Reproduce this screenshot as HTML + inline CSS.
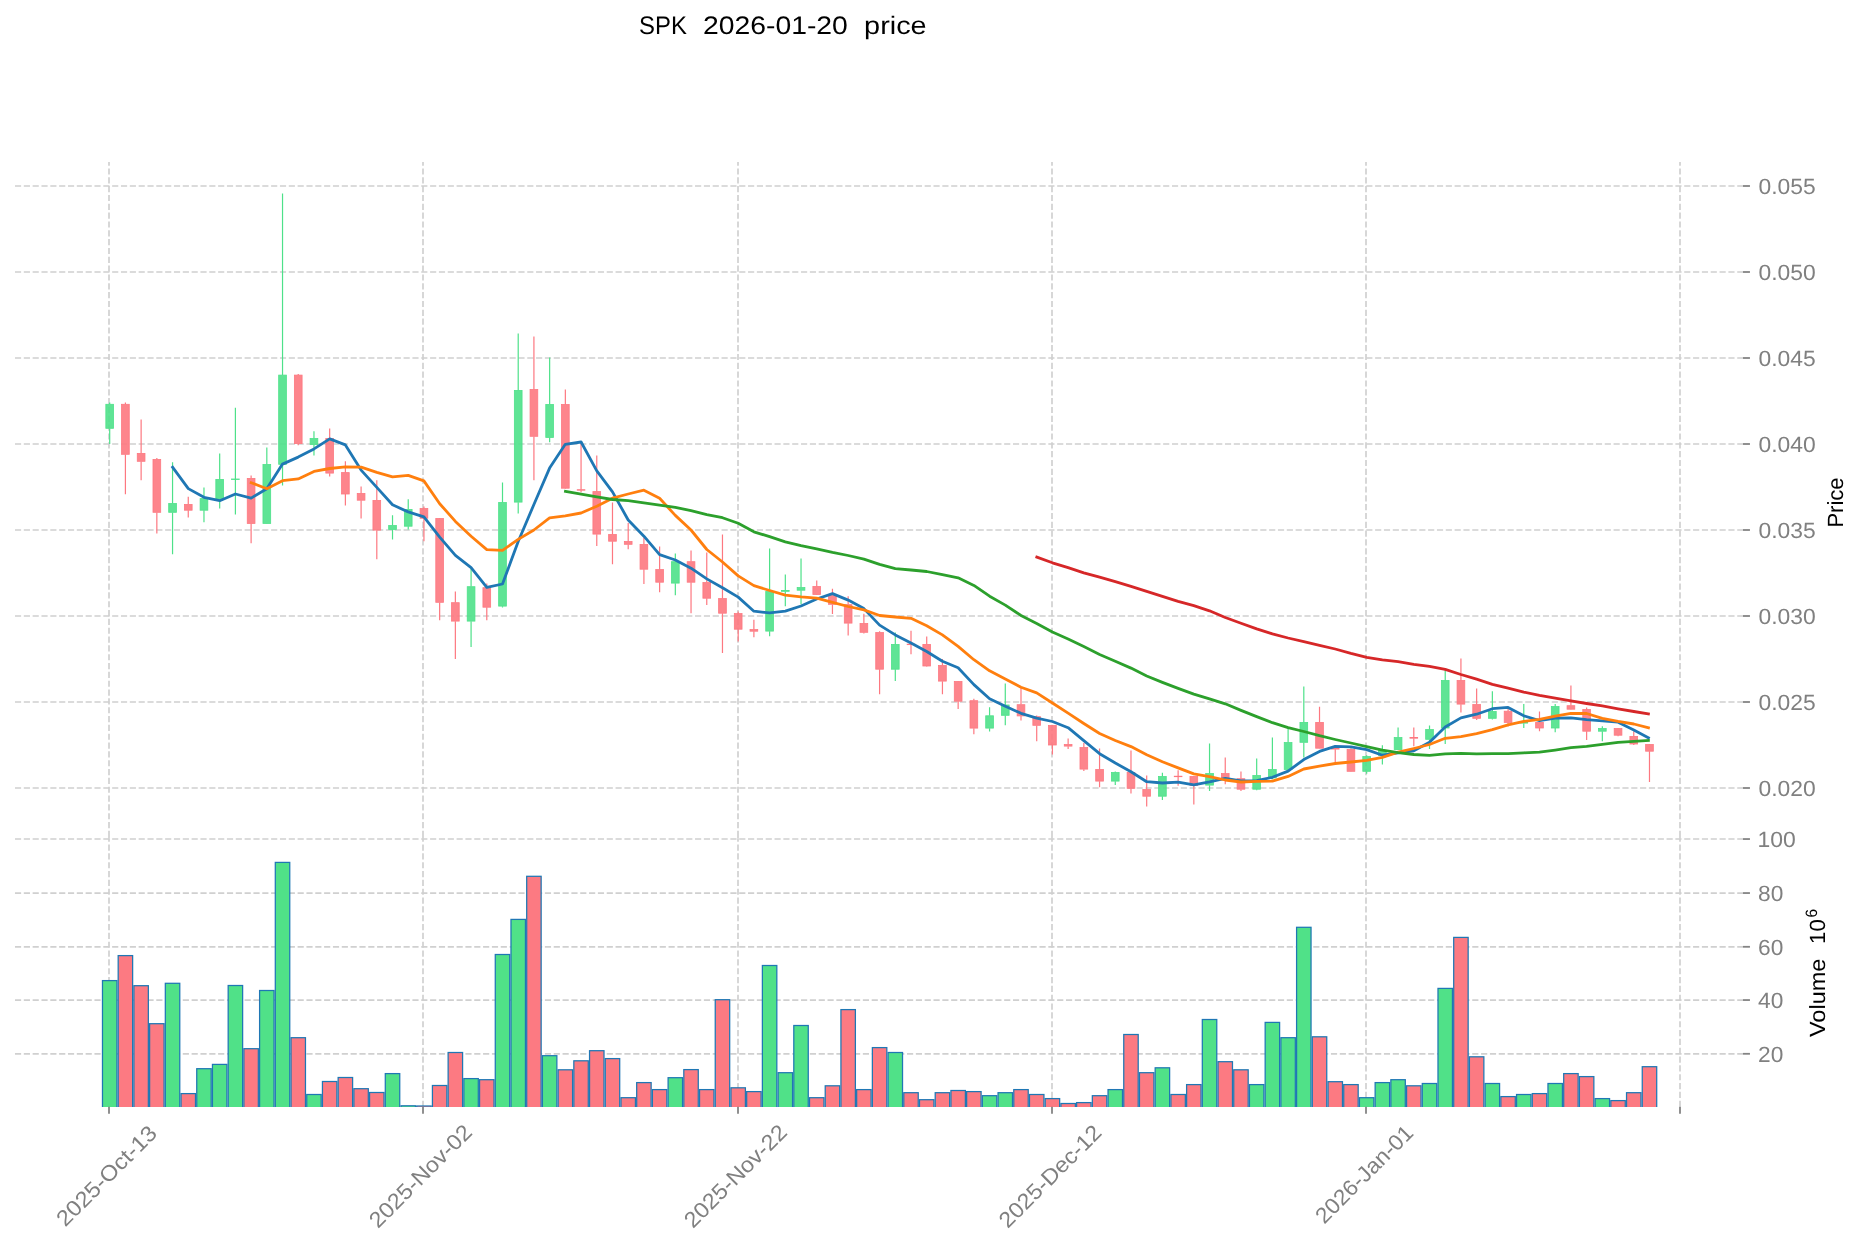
<!DOCTYPE html><html><head><meta charset="utf-8"><title>SPK 2026-01-20 price</title><style>html,body{margin:0;padding:0;background:#fff}svg{display:block;will-change:transform}text{font-family:"Liberation Sans",sans-serif;text-rendering:geometricPrecision}</style></head><body>
<svg width="1860" height="1246" viewBox="0 0 1860 1246">
<rect width="1860" height="1246" fill="#fff"/>
<g stroke="#d0d0d0" stroke-width="1.667" stroke-dasharray="6.17 2.662" fill="none">
<path d="M14.97 186H1742.94"/>
<path d="M14.97 272H1742.94"/>
<path d="M14.97 358H1742.94"/>
<path d="M14.97 444H1742.94"/>
<path d="M14.97 530H1742.94"/>
<path d="M14.97 616H1742.94"/>
<path d="M14.97 702H1742.94"/>
<path d="M14.97 788H1742.94"/>
<path d="M14.97 839.04H1742.94"/>
<path d="M14.97 893.05H1742.94"/>
<path d="M14.97 946.8H1742.94"/>
<path d="M14.97 1000.05H1742.94"/>
<path d="M14.97 1053.8H1742.94"/>
<path d="M109 837.0V162.0"/>
<path d="M109 1106.8V838.5"/>
<path d="M423 837.0V162.0"/>
<path d="M423 1106.8V838.5"/>
<path d="M738 837.0V162.0"/>
<path d="M738 1106.8V838.5"/>
<path d="M1052 837.0V162.0"/>
<path d="M1052 1106.8V838.5"/>
<path d="M1366 837.0V162.0"/>
<path d="M1366 1106.8V838.5"/>
<path d="M1680 837.0V162.0"/>
<path d="M1680 1106.8V838.5"/>
</g>
<g stroke="#d0d0d0" stroke-width="1.667" fill="none">
<path d="M109 836.9V838.6"/>
<path d="M423 836.9V838.6"/>
<path d="M738 836.9V838.6"/>
<path d="M1052 836.9V838.6"/>
<path d="M1366 836.9V838.6"/>
<path d="M1680 836.9V838.6"/>
</g>
<clipPath id="vc"><rect x="0" y="800" width="1860" height="306.9000000000001"/></clipPath>
<g stroke="#1f77b4" stroke-width="1.25" clip-path="url(#vc)">
<rect x="102.47" y="980.6" width="14.46" height="129.3" fill="#50e188"/>
<rect x="118.18" y="955.6" width="14.46" height="154.3" fill="#fc7a82"/>
<rect x="133.89" y="985.7" width="14.46" height="124.2" fill="#fc7a82"/>
<rect x="149.61" y="1023.7" width="14.46" height="86.2" fill="#fc7a82"/>
<rect x="165.32" y="983.3" width="14.46" height="126.6" fill="#50e188"/>
<rect x="181.03" y="1093.6" width="14.46" height="16.3" fill="#fc7a82"/>
<rect x="196.74" y="1068.7" width="14.46" height="41.2" fill="#50e188"/>
<rect x="212.45" y="1064.4" width="14.46" height="45.5" fill="#50e188"/>
<rect x="228.17" y="985.5" width="14.46" height="124.4" fill="#50e188"/>
<rect x="243.88" y="1048.7" width="14.46" height="61.2" fill="#fc7a82"/>
<rect x="259.59" y="990.5" width="14.46" height="119.4" fill="#50e188"/>
<rect x="275.30" y="862.4" width="14.46" height="247.5" fill="#50e188"/>
<rect x="291.01" y="1037.7" width="14.46" height="72.2" fill="#fc7a82"/>
<rect x="306.73" y="1094.5" width="14.46" height="15.4" fill="#50e188"/>
<rect x="322.44" y="1081.5" width="14.46" height="28.4" fill="#fc7a82"/>
<rect x="338.15" y="1077.5" width="14.46" height="32.4" fill="#fc7a82"/>
<rect x="353.86" y="1088.7" width="14.46" height="21.2" fill="#fc7a82"/>
<rect x="369.57" y="1092.5" width="14.46" height="17.4" fill="#fc7a82"/>
<rect x="385.29" y="1073.6" width="14.46" height="36.3" fill="#50e188"/>
<rect x="401.00" y="1105.8" width="14.46" height="4.1" fill="#50e188"/>
<rect x="416.71" y="1106.0" width="14.46" height="3.9" fill="#fc7a82"/>
<rect x="432.42" y="1085.5" width="14.46" height="24.4" fill="#fc7a82"/>
<rect x="448.13" y="1052.5" width="14.46" height="57.4" fill="#fc7a82"/>
<rect x="463.85" y="1078.6" width="14.46" height="31.3" fill="#50e188"/>
<rect x="479.56" y="1079.7" width="14.46" height="30.2" fill="#fc7a82"/>
<rect x="495.27" y="954.5" width="14.46" height="155.4" fill="#50e188"/>
<rect x="510.98" y="919.4" width="14.46" height="190.5" fill="#50e188"/>
<rect x="526.69" y="876.3" width="14.46" height="233.6" fill="#fc7a82"/>
<rect x="542.41" y="1055.7" width="14.46" height="54.2" fill="#50e188"/>
<rect x="558.12" y="1069.8" width="14.46" height="40.1" fill="#fc7a82"/>
<rect x="573.83" y="1060.8" width="14.46" height="49.1" fill="#fc7a82"/>
<rect x="589.54" y="1050.7" width="14.46" height="59.2" fill="#fc7a82"/>
<rect x="605.25" y="1058.6" width="14.46" height="51.3" fill="#fc7a82"/>
<rect x="620.97" y="1097.7" width="14.46" height="12.2" fill="#fc7a82"/>
<rect x="636.68" y="1082.6" width="14.46" height="27.3" fill="#fc7a82"/>
<rect x="652.39" y="1089.6" width="14.46" height="20.3" fill="#fc7a82"/>
<rect x="668.10" y="1077.7" width="14.46" height="32.2" fill="#50e188"/>
<rect x="683.81" y="1069.6" width="14.46" height="40.3" fill="#fc7a82"/>
<rect x="699.53" y="1089.6" width="14.46" height="20.3" fill="#fc7a82"/>
<rect x="715.24" y="999.7" width="14.46" height="110.2" fill="#fc7a82"/>
<rect x="730.95" y="1087.8" width="14.46" height="22.1" fill="#fc7a82"/>
<rect x="746.66" y="1091.6" width="14.46" height="18.3" fill="#fc7a82"/>
<rect x="762.37" y="965.5" width="14.46" height="144.4" fill="#50e188"/>
<rect x="778.09" y="1072.7" width="14.46" height="37.2" fill="#50e188"/>
<rect x="793.80" y="1025.5" width="14.46" height="84.4" fill="#50e188"/>
<rect x="809.51" y="1097.7" width="14.46" height="12.2" fill="#fc7a82"/>
<rect x="825.22" y="1085.8" width="14.46" height="24.1" fill="#fc7a82"/>
<rect x="840.93" y="1009.6" width="14.46" height="100.3" fill="#fc7a82"/>
<rect x="856.65" y="1089.6" width="14.46" height="20.3" fill="#fc7a82"/>
<rect x="872.36" y="1047.6" width="14.46" height="62.3" fill="#fc7a82"/>
<rect x="888.07" y="1052.5" width="14.46" height="57.4" fill="#50e188"/>
<rect x="903.78" y="1092.7" width="14.46" height="17.2" fill="#fc7a82"/>
<rect x="919.49" y="1099.7" width="14.46" height="10.2" fill="#fc7a82"/>
<rect x="935.21" y="1092.7" width="14.46" height="17.2" fill="#fc7a82"/>
<rect x="950.92" y="1090.5" width="14.46" height="19.4" fill="#fc7a82"/>
<rect x="966.63" y="1091.6" width="14.46" height="18.3" fill="#fc7a82"/>
<rect x="982.34" y="1095.7" width="14.46" height="14.2" fill="#50e188"/>
<rect x="998.05" y="1092.7" width="14.46" height="17.2" fill="#50e188"/>
<rect x="1013.77" y="1089.6" width="14.46" height="20.3" fill="#fc7a82"/>
<rect x="1029.48" y="1094.5" width="14.46" height="15.4" fill="#fc7a82"/>
<rect x="1045.19" y="1098.6" width="14.46" height="11.3" fill="#fc7a82"/>
<rect x="1060.90" y="1103.5" width="14.46" height="6.4" fill="#fc7a82"/>
<rect x="1076.61" y="1102.6" width="14.46" height="7.3" fill="#fc7a82"/>
<rect x="1092.33" y="1095.7" width="14.46" height="14.2" fill="#fc7a82"/>
<rect x="1108.04" y="1089.6" width="14.46" height="20.3" fill="#50e188"/>
<rect x="1123.75" y="1034.5" width="14.46" height="75.4" fill="#fc7a82"/>
<rect x="1139.46" y="1072.7" width="14.46" height="37.2" fill="#fc7a82"/>
<rect x="1155.17" y="1067.8" width="14.46" height="42.1" fill="#50e188"/>
<rect x="1170.89" y="1094.5" width="14.46" height="15.4" fill="#fc7a82"/>
<rect x="1186.60" y="1084.6" width="14.46" height="25.3" fill="#fc7a82"/>
<rect x="1202.31" y="1019.5" width="14.46" height="90.4" fill="#50e188"/>
<rect x="1218.02" y="1061.7" width="14.46" height="48.2" fill="#fc7a82"/>
<rect x="1233.73" y="1069.8" width="14.46" height="40.1" fill="#fc7a82"/>
<rect x="1249.45" y="1084.6" width="14.46" height="25.3" fill="#50e188"/>
<rect x="1265.16" y="1022.4" width="14.46" height="87.5" fill="#50e188"/>
<rect x="1280.87" y="1037.7" width="14.46" height="72.2" fill="#50e188"/>
<rect x="1296.58" y="927.3" width="14.46" height="182.6" fill="#50e188"/>
<rect x="1312.29" y="1036.8" width="14.46" height="73.1" fill="#fc7a82"/>
<rect x="1328.01" y="1081.7" width="14.46" height="28.2" fill="#fc7a82"/>
<rect x="1343.72" y="1084.6" width="14.46" height="25.3" fill="#fc7a82"/>
<rect x="1359.43" y="1097.7" width="14.46" height="12.2" fill="#50e188"/>
<rect x="1375.14" y="1082.6" width="14.46" height="27.3" fill="#50e188"/>
<rect x="1390.85" y="1079.7" width="14.46" height="30.2" fill="#50e188"/>
<rect x="1406.57" y="1085.8" width="14.46" height="24.1" fill="#fc7a82"/>
<rect x="1422.28" y="1083.5" width="14.46" height="26.4" fill="#50e188"/>
<rect x="1437.99" y="988.4" width="14.46" height="121.5" fill="#50e188"/>
<rect x="1453.70" y="937.4" width="14.46" height="172.5" fill="#fc7a82"/>
<rect x="1469.41" y="1056.8" width="14.46" height="53.1" fill="#fc7a82"/>
<rect x="1485.13" y="1083.5" width="14.46" height="26.4" fill="#50e188"/>
<rect x="1500.84" y="1096.6" width="14.46" height="13.3" fill="#fc7a82"/>
<rect x="1516.55" y="1094.5" width="14.46" height="15.4" fill="#50e188"/>
<rect x="1532.26" y="1093.6" width="14.46" height="16.3" fill="#fc7a82"/>
<rect x="1547.97" y="1083.5" width="14.46" height="26.4" fill="#50e188"/>
<rect x="1563.69" y="1073.6" width="14.46" height="36.3" fill="#fc7a82"/>
<rect x="1579.40" y="1076.6" width="14.46" height="33.3" fill="#fc7a82"/>
<rect x="1595.11" y="1098.6" width="14.46" height="11.3" fill="#50e188"/>
<rect x="1610.82" y="1100.6" width="14.46" height="9.3" fill="#fc7a82"/>
<rect x="1626.53" y="1092.7" width="14.46" height="17.2" fill="#fc7a82"/>
<rect x="1642.25" y="1066.7" width="14.46" height="43.2" fill="#fc7a82"/>
</g>
<path d="M109.70 402.6V404.2M109.70 428.4V444.0" stroke="#4ee189" stroke-width="1.2"/>
<rect x="105.85" y="404.30" width="7.7" height="24.00" fill="#4ee189" fill-opacity="0.9" stroke="#4ee189" stroke-width="0.8"/>
<path d="M125.41 402.6V404.2M125.41 454.4V494.2" stroke="#fd7880" stroke-width="1.2"/>
<rect x="121.56" y="404.30" width="7.7" height="50.00" fill="#fd7880" fill-opacity="0.9" stroke="#fd7880" stroke-width="0.8"/>
<path d="M141.12 419.5V453.3M141.12 461.4V480.3" stroke="#fd7880" stroke-width="1.2"/>
<rect x="137.27" y="453.40" width="7.7" height="7.90" fill="#fd7880" fill-opacity="0.9" stroke="#fd7880" stroke-width="0.8"/>
<path d="M156.84 458.1V459.3M156.84 512.4V533.4" stroke="#fd7880" stroke-width="1.2"/>
<rect x="152.99" y="459.40" width="7.7" height="52.90" fill="#fd7880" fill-opacity="0.9" stroke="#fd7880" stroke-width="0.8"/>
<path d="M172.55 462.2V503.4M172.55 512.4V554.3" stroke="#4ee189" stroke-width="1.2"/>
<rect x="168.70" y="503.50" width="7.7" height="8.80" fill="#4ee189" fill-opacity="0.9" stroke="#4ee189" stroke-width="0.8"/>
<path d="M188.26 496.7V504.3M188.26 510.3V517.4" stroke="#fd7880" stroke-width="1.2"/>
<rect x="184.41" y="504.40" width="7.7" height="5.80" fill="#fd7880" fill-opacity="0.9" stroke="#fd7880" stroke-width="0.8"/>
<path d="M203.97 487.5V498.5M203.97 510.3V522.3" stroke="#4ee189" stroke-width="1.2"/>
<rect x="200.12" y="498.60" width="7.7" height="11.60" fill="#4ee189" fill-opacity="0.9" stroke="#4ee189" stroke-width="0.8"/>
<path d="M219.68 453.6V479.3M219.68 499.0V508.5" stroke="#4ee189" stroke-width="1.2"/>
<rect x="215.83" y="479.40" width="7.7" height="19.50" fill="#4ee189" fill-opacity="0.9" stroke="#4ee189" stroke-width="0.8"/>
<path d="M235.40 407.7V479.2M235.40 479.3V514.4" stroke="#4ee189" stroke-width="1.2"/>
<rect x="231.55" y="479.00" width="7.7" height="0.50" fill="#4ee189" fill-opacity="0.9" stroke="#4ee189" stroke-width="0.8"/>
<path d="M251.11 475.6V478.3M251.11 523.5V543.3" stroke="#fd7880" stroke-width="1.2"/>
<rect x="247.26" y="478.40" width="7.7" height="45.00" fill="#fd7880" fill-opacity="0.9" stroke="#fd7880" stroke-width="0.8"/>
<path d="M266.82 447.4V464.4M266.82 523.5V523.8" stroke="#4ee189" stroke-width="1.2"/>
<rect x="262.97" y="464.50" width="7.7" height="58.90" fill="#4ee189" fill-opacity="0.9" stroke="#4ee189" stroke-width="0.8"/>
<path d="M282.53 193.5V375.0M282.53 464.4V485.4" stroke="#4ee189" stroke-width="1.2"/>
<rect x="278.68" y="375.10" width="7.7" height="89.20" fill="#4ee189" fill-opacity="0.9" stroke="#4ee189" stroke-width="0.8"/>
<path d="M298.24 374.0V375.0M298.24 443.7V445.3" stroke="#fd7880" stroke-width="1.2"/>
<rect x="294.39" y="375.10" width="7.7" height="68.50" fill="#fd7880" fill-opacity="0.9" stroke="#fd7880" stroke-width="0.8"/>
<path d="M313.96 431.2V438.4M313.96 444.6V455.6" stroke="#4ee189" stroke-width="1.2"/>
<rect x="310.11" y="438.50" width="7.7" height="6.00" fill="#4ee189" fill-opacity="0.9" stroke="#4ee189" stroke-width="0.8"/>
<path d="M329.67 428.4V438.4M329.67 473.2V476.5" stroke="#fd7880" stroke-width="1.2"/>
<rect x="325.82" y="438.50" width="7.7" height="34.60" fill="#fd7880" fill-opacity="0.9" stroke="#fd7880" stroke-width="0.8"/>
<path d="M345.38 461.3V472.5M345.38 494.1V505.5" stroke="#fd7880" stroke-width="1.2"/>
<rect x="341.53" y="472.60" width="7.7" height="21.40" fill="#fd7880" fill-opacity="0.9" stroke="#fd7880" stroke-width="0.8"/>
<path d="M361.09 486.5V493.4M361.09 500.3V518.5" stroke="#fd7880" stroke-width="1.2"/>
<rect x="357.24" y="493.50" width="7.7" height="6.70" fill="#fd7880" fill-opacity="0.9" stroke="#fd7880" stroke-width="0.8"/>
<path d="M376.80 480.3V500.3M376.80 530.2V559.3" stroke="#fd7880" stroke-width="1.2"/>
<rect x="372.95" y="500.40" width="7.7" height="29.70" fill="#fd7880" fill-opacity="0.9" stroke="#fd7880" stroke-width="0.8"/>
<path d="M392.52 515.3V525.4M392.52 529.5V539.4" stroke="#4ee189" stroke-width="1.2"/>
<rect x="388.67" y="525.50" width="7.7" height="3.90" fill="#4ee189" fill-opacity="0.9" stroke="#4ee189" stroke-width="0.8"/>
<path d="M408.23 499.3V509.4M408.23 526.3V529.6" stroke="#4ee189" stroke-width="1.2"/>
<rect x="404.38" y="509.50" width="7.7" height="16.70" fill="#4ee189" fill-opacity="0.9" stroke="#4ee189" stroke-width="0.8"/>
<path d="M423.94 506.5V508.4M423.94 518.3V541.2" stroke="#fd7880" stroke-width="1.2"/>
<rect x="420.09" y="508.50" width="7.7" height="9.70" fill="#fd7880" fill-opacity="0.9" stroke="#fd7880" stroke-width="0.8"/>
<path d="M439.65 518.0V518.4M439.65 602.4V620.2" stroke="#fd7880" stroke-width="1.2"/>
<rect x="435.80" y="518.50" width="7.7" height="83.80" fill="#fd7880" fill-opacity="0.9" stroke="#fd7880" stroke-width="0.8"/>
<path d="M455.36 591.6V602.6M455.36 621.2V659.1" stroke="#fd7880" stroke-width="1.2"/>
<rect x="451.51" y="602.70" width="7.7" height="18.40" fill="#fd7880" fill-opacity="0.9" stroke="#fd7880" stroke-width="0.8"/>
<path d="M471.08 568.4V586.6M471.08 621.2V647.1" stroke="#4ee189" stroke-width="1.2"/>
<rect x="467.23" y="586.70" width="7.7" height="34.40" fill="#4ee189" fill-opacity="0.9" stroke="#4ee189" stroke-width="0.8"/>
<path d="M486.79 583.5V587.6M486.79 607.3V620.2" stroke="#fd7880" stroke-width="1.2"/>
<rect x="482.94" y="587.70" width="7.7" height="19.50" fill="#fd7880" fill-opacity="0.9" stroke="#fd7880" stroke-width="0.8"/>
<path d="M502.50 482.4V502.4M502.50 606.2V607.6" stroke="#4ee189" stroke-width="1.2"/>
<rect x="498.65" y="502.50" width="7.7" height="103.60" fill="#4ee189" fill-opacity="0.9" stroke="#4ee189" stroke-width="0.8"/>
<path d="M518.21 333.5V390.3M518.21 502.2V513.4" stroke="#4ee189" stroke-width="1.2"/>
<rect x="514.36" y="390.40" width="7.7" height="111.70" fill="#4ee189" fill-opacity="0.9" stroke="#4ee189" stroke-width="0.8"/>
<path d="M533.92 336.6V389.4M533.92 436.4V480.3" stroke="#fd7880" stroke-width="1.2"/>
<rect x="530.07" y="389.50" width="7.7" height="46.80" fill="#fd7880" fill-opacity="0.9" stroke="#fd7880" stroke-width="0.8"/>
<path d="M549.64 357.6V404.4M549.64 437.5V442.3" stroke="#4ee189" stroke-width="1.2"/>
<rect x="545.79" y="404.50" width="7.7" height="32.90" fill="#4ee189" fill-opacity="0.9" stroke="#4ee189" stroke-width="0.8"/>
<path d="M565.35 389.6V404.4M565.35 488.3V488.8" stroke="#fd7880" stroke-width="1.2"/>
<rect x="561.50" y="404.50" width="7.7" height="83.70" fill="#fd7880" fill-opacity="0.9" stroke="#fd7880" stroke-width="0.8"/>
<path d="M581.06 443.3V489.7M581.06 490.2V492.3" stroke="#fd7880" stroke-width="1.2"/>
<rect x="577.21" y="489.70" width="7.7" height="0.50" fill="#fd7880" fill-opacity="0.9" stroke="#fd7880" stroke-width="0.8"/>
<path d="M596.77 455.5V491.5M596.77 534.2V546.0" stroke="#fd7880" stroke-width="1.2"/>
<rect x="592.92" y="491.60" width="7.7" height="42.50" fill="#fd7880" fill-opacity="0.9" stroke="#fd7880" stroke-width="0.8"/>
<path d="M612.48 502.5V534.4M612.48 541.3V564.3" stroke="#fd7880" stroke-width="1.2"/>
<rect x="608.63" y="534.50" width="7.7" height="6.70" fill="#fd7880" fill-opacity="0.9" stroke="#fd7880" stroke-width="0.8"/>
<path d="M628.20 523.0V541.4M628.20 544.4V549.3" stroke="#fd7880" stroke-width="1.2"/>
<rect x="624.35" y="541.50" width="7.7" height="2.80" fill="#fd7880" fill-opacity="0.9" stroke="#fd7880" stroke-width="0.8"/>
<path d="M643.91 537.3V544.3M643.91 569.3V584.1" stroke="#fd7880" stroke-width="1.2"/>
<rect x="640.06" y="544.40" width="7.7" height="24.80" fill="#fd7880" fill-opacity="0.9" stroke="#fd7880" stroke-width="0.8"/>
<path d="M659.62 546.5V569.5M659.62 582.3V592.3" stroke="#fd7880" stroke-width="1.2"/>
<rect x="655.77" y="569.60" width="7.7" height="12.60" fill="#fd7880" fill-opacity="0.9" stroke="#fd7880" stroke-width="0.8"/>
<path d="M675.33 553.4V561.6M675.33 583.2V595.2" stroke="#4ee189" stroke-width="1.2"/>
<rect x="671.48" y="561.70" width="7.7" height="21.40" fill="#4ee189" fill-opacity="0.9" stroke="#4ee189" stroke-width="0.8"/>
<path d="M691.04 550.6V561.6M691.04 582.3V613.2" stroke="#fd7880" stroke-width="1.2"/>
<rect x="687.19" y="561.70" width="7.7" height="20.50" fill="#fd7880" fill-opacity="0.9" stroke="#fd7880" stroke-width="0.8"/>
<path d="M706.76 552.5V582.5M706.76 598.3V605.1" stroke="#fd7880" stroke-width="1.2"/>
<rect x="702.91" y="582.60" width="7.7" height="15.60" fill="#fd7880" fill-opacity="0.9" stroke="#fd7880" stroke-width="0.8"/>
<path d="M722.47 534.6V598.5M722.47 613.3V653.1" stroke="#fd7880" stroke-width="1.2"/>
<rect x="718.62" y="598.60" width="7.7" height="14.60" fill="#fd7880" fill-opacity="0.9" stroke="#fd7880" stroke-width="0.8"/>
<path d="M738.18 611.4V613.5M738.18 629.3V641.5" stroke="#fd7880" stroke-width="1.2"/>
<rect x="734.33" y="613.60" width="7.7" height="15.60" fill="#fd7880" fill-opacity="0.9" stroke="#fd7880" stroke-width="0.8"/>
<path d="M753.89 619.8V629.5M753.89 631.3V637.2" stroke="#fd7880" stroke-width="1.2"/>
<rect x="750.04" y="629.60" width="7.7" height="1.60" fill="#fd7880" fill-opacity="0.9" stroke="#fd7880" stroke-width="0.8"/>
<path d="M769.60 548.5V591.5M769.60 631.2V636.3" stroke="#4ee189" stroke-width="1.2"/>
<rect x="765.75" y="591.60" width="7.7" height="39.50" fill="#4ee189" fill-opacity="0.9" stroke="#4ee189" stroke-width="0.8"/>
<path d="M785.32 574.6V590.5M785.32 591.4V606.2" stroke="#4ee189" stroke-width="1.2"/>
<rect x="781.47" y="590.60" width="7.7" height="0.70" fill="#4ee189" fill-opacity="0.9" stroke="#4ee189" stroke-width="0.8"/>
<path d="M801.03 558.6V587.5M801.03 590.3V604.3" stroke="#4ee189" stroke-width="1.2"/>
<rect x="797.18" y="587.60" width="7.7" height="2.60" fill="#4ee189" fill-opacity="0.9" stroke="#4ee189" stroke-width="0.8"/>
<path d="M816.74 580.4V586.4M816.74 594.6V595.0" stroke="#fd7880" stroke-width="1.2"/>
<rect x="812.89" y="586.50" width="7.7" height="8.00" fill="#fd7880" fill-opacity="0.9" stroke="#fd7880" stroke-width="0.8"/>
<path d="M832.45 588.7V595.2M832.45 604.4V614.1" stroke="#fd7880" stroke-width="1.2"/>
<rect x="828.60" y="595.30" width="7.7" height="9.00" fill="#fd7880" fill-opacity="0.9" stroke="#fd7880" stroke-width="0.8"/>
<path d="M848.16 596.2V604.6M848.16 623.2V635.4" stroke="#fd7880" stroke-width="1.2"/>
<rect x="844.31" y="604.70" width="7.7" height="18.40" fill="#fd7880" fill-opacity="0.9" stroke="#fd7880" stroke-width="0.8"/>
<path d="M863.88 613.7V623.4M863.88 632.4V633.5" stroke="#fd7880" stroke-width="1.2"/>
<rect x="860.03" y="623.50" width="7.7" height="8.80" fill="#fd7880" fill-opacity="0.9" stroke="#fd7880" stroke-width="0.8"/>
<path d="M879.59 631.2V632.5M879.59 669.3V694.3" stroke="#fd7880" stroke-width="1.2"/>
<rect x="875.74" y="632.60" width="7.7" height="36.60" fill="#fd7880" fill-opacity="0.9" stroke="#fd7880" stroke-width="0.8"/>
<path d="M895.30 632.6V644.3M895.30 669.3V681.1" stroke="#4ee189" stroke-width="1.2"/>
<rect x="891.45" y="644.40" width="7.7" height="24.80" fill="#4ee189" fill-opacity="0.9" stroke="#4ee189" stroke-width="0.8"/>
<path d="M911.01 630.7V644.3M911.01 644.5V654.2" stroke="#fd7880" stroke-width="1.2"/>
<rect x="907.16" y="644.15" width="7.7" height="0.50" fill="#fd7880" fill-opacity="0.9" stroke="#fd7880" stroke-width="0.8"/>
<path d="M926.72 636.5V644.3M926.72 666.1V666.4" stroke="#fd7880" stroke-width="1.2"/>
<rect x="922.87" y="644.40" width="7.7" height="21.60" fill="#fd7880" fill-opacity="0.9" stroke="#fd7880" stroke-width="0.8"/>
<path d="M942.44 658.9V665.4M942.44 681.2V694.3" stroke="#fd7880" stroke-width="1.2"/>
<rect x="938.59" y="665.50" width="7.7" height="15.60" fill="#fd7880" fill-opacity="0.9" stroke="#fd7880" stroke-width="0.8"/>
<path d="M958.15 681.0V681.4M958.15 701.3V709.1" stroke="#fd7880" stroke-width="1.2"/>
<rect x="954.30" y="681.50" width="7.7" height="19.70" fill="#fd7880" fill-opacity="0.9" stroke="#fd7880" stroke-width="0.8"/>
<path d="M973.86 698.8V700.6M973.86 728.2V734.2" stroke="#fd7880" stroke-width="1.2"/>
<rect x="970.01" y="700.70" width="7.7" height="27.40" fill="#fd7880" fill-opacity="0.9" stroke="#fd7880" stroke-width="0.8"/>
<path d="M989.57 707.3V715.7M989.57 728.2V731.4" stroke="#4ee189" stroke-width="1.2"/>
<rect x="985.72" y="715.80" width="7.7" height="12.30" fill="#4ee189" fill-opacity="0.9" stroke="#4ee189" stroke-width="0.8"/>
<path d="M1005.28 683.4V704.9M1005.28 715.4V725.3" stroke="#4ee189" stroke-width="1.2"/>
<rect x="1001.43" y="705.00" width="7.7" height="10.30" fill="#4ee189" fill-opacity="0.9" stroke="#4ee189" stroke-width="0.8"/>
<path d="M1021.00 687.1V704.6M1021.00 716.0V720.4" stroke="#fd7880" stroke-width="1.2"/>
<rect x="1017.15" y="704.70" width="7.7" height="11.20" fill="#fd7880" fill-opacity="0.9" stroke="#fd7880" stroke-width="0.8"/>
<path d="M1036.71 715.4V716.6M1036.71 725.4V741.3" stroke="#fd7880" stroke-width="1.2"/>
<rect x="1032.86" y="716.70" width="7.7" height="8.60" fill="#fd7880" fill-opacity="0.9" stroke="#fd7880" stroke-width="0.8"/>
<path d="M1052.42 724.9V725.4M1052.42 745.1V754.6" stroke="#fd7880" stroke-width="1.2"/>
<rect x="1048.57" y="725.50" width="7.7" height="19.50" fill="#fd7880" fill-opacity="0.9" stroke="#fd7880" stroke-width="0.8"/>
<path d="M1068.13 738.4V744.4M1068.13 746.2V749.1" stroke="#fd7880" stroke-width="1.2"/>
<rect x="1064.28" y="744.50" width="7.7" height="1.60" fill="#fd7880" fill-opacity="0.9" stroke="#fd7880" stroke-width="0.8"/>
<path d="M1083.84 742.9V747.5M1083.84 769.2V771.0" stroke="#fd7880" stroke-width="1.2"/>
<rect x="1079.99" y="747.60" width="7.7" height="21.50" fill="#fd7880" fill-opacity="0.9" stroke="#fd7880" stroke-width="0.8"/>
<path d="M1099.56 748.6V769.4M1099.56 781.2V787.2" stroke="#fd7880" stroke-width="1.2"/>
<rect x="1095.71" y="769.50" width="7.7" height="11.60" fill="#fd7880" fill-opacity="0.9" stroke="#fd7880" stroke-width="0.8"/>
<path d="M1115.27 771.4V772.4M1115.27 781.2V784.9" stroke="#4ee189" stroke-width="1.2"/>
<rect x="1111.42" y="772.50" width="7.7" height="8.60" fill="#4ee189" fill-opacity="0.9" stroke="#4ee189" stroke-width="0.8"/>
<path d="M1130.98 750.6V772.4M1130.98 788.4V793.4" stroke="#fd7880" stroke-width="1.2"/>
<rect x="1127.13" y="772.50" width="7.7" height="15.80" fill="#fd7880" fill-opacity="0.9" stroke="#fd7880" stroke-width="0.8"/>
<path d="M1146.69 775.5V789.5M1146.69 796.3V806.4" stroke="#fd7880" stroke-width="1.2"/>
<rect x="1142.84" y="789.60" width="7.7" height="6.60" fill="#fd7880" fill-opacity="0.9" stroke="#fd7880" stroke-width="0.8"/>
<path d="M1162.40 772.7V776.4M1162.40 796.3V800.1" stroke="#4ee189" stroke-width="1.2"/>
<rect x="1158.55" y="776.50" width="7.7" height="19.70" fill="#4ee189" fill-opacity="0.9" stroke="#4ee189" stroke-width="0.8"/>
<path d="M1178.12 770.2V776.2M1178.12 776.7V785.8" stroke="#fd7880" stroke-width="1.2"/>
<rect x="1174.27" y="776.20" width="7.7" height="0.50" fill="#fd7880" fill-opacity="0.9" stroke="#fd7880" stroke-width="0.8"/>
<path d="M1193.83 776.0V776.4M1193.83 785.7V804.4" stroke="#fd7880" stroke-width="1.2"/>
<rect x="1189.98" y="776.50" width="7.7" height="9.10" fill="#fd7880" fill-opacity="0.9" stroke="#fd7880" stroke-width="0.8"/>
<path d="M1209.54 743.5V773.5M1209.54 785.2V791.1" stroke="#4ee189" stroke-width="1.2"/>
<rect x="1205.69" y="773.60" width="7.7" height="11.50" fill="#4ee189" fill-opacity="0.9" stroke="#4ee189" stroke-width="0.8"/>
<path d="M1225.25 757.6V773.5M1225.25 779.0V784.3" stroke="#fd7880" stroke-width="1.2"/>
<rect x="1221.40" y="773.60" width="7.7" height="5.30" fill="#fd7880" fill-opacity="0.9" stroke="#fd7880" stroke-width="0.8"/>
<path d="M1240.96 771.4V778.6M1240.96 789.3V791.1" stroke="#fd7880" stroke-width="1.2"/>
<rect x="1237.11" y="778.70" width="7.7" height="10.50" fill="#fd7880" fill-opacity="0.9" stroke="#fd7880" stroke-width="0.8"/>
<path d="M1256.68 758.6V775.4M1256.68 789.3V790.2" stroke="#4ee189" stroke-width="1.2"/>
<rect x="1252.83" y="775.50" width="7.7" height="13.70" fill="#4ee189" fill-opacity="0.9" stroke="#4ee189" stroke-width="0.8"/>
<path d="M1272.39 737.5V769.4M1272.39 778.0V779.3" stroke="#4ee189" stroke-width="1.2"/>
<rect x="1268.54" y="769.50" width="7.7" height="8.40" fill="#4ee189" fill-opacity="0.9" stroke="#4ee189" stroke-width="0.8"/>
<path d="M1288.10 728.4V742.5M1288.10 769.5V769.8" stroke="#4ee189" stroke-width="1.2"/>
<rect x="1284.25" y="742.60" width="7.7" height="26.80" fill="#4ee189" fill-opacity="0.9" stroke="#4ee189" stroke-width="0.8"/>
<path d="M1303.81 686.5V722.3M1303.81 742.4V757.6" stroke="#4ee189" stroke-width="1.2"/>
<rect x="1299.96" y="722.40" width="7.7" height="19.90" fill="#4ee189" fill-opacity="0.9" stroke="#4ee189" stroke-width="0.8"/>
<path d="M1319.52 706.8V722.3M1319.52 748.3V748.6" stroke="#fd7880" stroke-width="1.2"/>
<rect x="1315.67" y="722.40" width="7.7" height="25.80" fill="#fd7880" fill-opacity="0.9" stroke="#fd7880" stroke-width="0.8"/>
<path d="M1335.24 745.4V748.3M1335.24 749.2V761.9" stroke="#fd7880" stroke-width="1.2"/>
<rect x="1331.39" y="748.40" width="7.7" height="0.70" fill="#fd7880" fill-opacity="0.9" stroke="#fd7880" stroke-width="0.8"/>
<path d="M1350.95 748.2V749.4M1350.95 771.4V771.7" stroke="#fd7880" stroke-width="1.2"/>
<rect x="1347.10" y="749.50" width="7.7" height="21.80" fill="#fd7880" fill-opacity="0.9" stroke="#fd7880" stroke-width="0.8"/>
<path d="M1366.66 755.2V756.5M1366.66 771.4V773.8" stroke="#4ee189" stroke-width="1.2"/>
<rect x="1362.81" y="756.60" width="7.7" height="14.70" fill="#4ee189" fill-opacity="0.9" stroke="#4ee189" stroke-width="0.8"/>
<path d="M1382.37 745.3V750.4M1382.37 755.4V764.6" stroke="#4ee189" stroke-width="1.2"/>
<rect x="1378.52" y="750.50" width="7.7" height="4.80" fill="#4ee189" fill-opacity="0.9" stroke="#4ee189" stroke-width="0.8"/>
<path d="M1398.08 727.5V737.5M1398.08 749.7V750.0" stroke="#4ee189" stroke-width="1.2"/>
<rect x="1394.23" y="737.60" width="7.7" height="12.00" fill="#4ee189" fill-opacity="0.9" stroke="#4ee189" stroke-width="0.8"/>
<path d="M1413.80 727.5V737.4M1413.80 738.3V746.3" stroke="#fd7880" stroke-width="1.2"/>
<rect x="1409.95" y="737.50" width="7.7" height="0.70" fill="#fd7880" fill-opacity="0.9" stroke="#fd7880" stroke-width="0.8"/>
<path d="M1429.51 725.6V729.5M1429.51 739.4V749.1" stroke="#4ee189" stroke-width="1.2"/>
<rect x="1425.66" y="729.60" width="7.7" height="9.70" fill="#4ee189" fill-opacity="0.9" stroke="#4ee189" stroke-width="0.8"/>
<path d="M1445.22 670.1V680.4M1445.22 728.1V744.1" stroke="#4ee189" stroke-width="1.2"/>
<rect x="1441.37" y="680.50" width="7.7" height="47.50" fill="#4ee189" fill-opacity="0.9" stroke="#4ee189" stroke-width="0.8"/>
<path d="M1460.93 658.4V680.4M1460.93 704.2V712.4" stroke="#fd7880" stroke-width="1.2"/>
<rect x="1457.08" y="680.50" width="7.7" height="23.60" fill="#fd7880" fill-opacity="0.9" stroke="#fd7880" stroke-width="0.8"/>
<path d="M1476.64 688.6V704.5M1476.64 718.4V720.0" stroke="#fd7880" stroke-width="1.2"/>
<rect x="1472.79" y="704.60" width="7.7" height="13.70" fill="#fd7880" fill-opacity="0.9" stroke="#fd7880" stroke-width="0.8"/>
<path d="M1492.36 691.2V711.4M1492.36 718.4V719.4" stroke="#4ee189" stroke-width="1.2"/>
<rect x="1488.51" y="711.50" width="7.7" height="6.80" fill="#4ee189" fill-opacity="0.9" stroke="#4ee189" stroke-width="0.8"/>
<path d="M1508.07 708.3V711.1M1508.07 722.5V726.6" stroke="#fd7880" stroke-width="1.2"/>
<rect x="1504.22" y="711.20" width="7.7" height="11.20" fill="#fd7880" fill-opacity="0.9" stroke="#fd7880" stroke-width="0.8"/>
<path d="M1523.78 704.0V722.3M1523.78 723.2V728.1" stroke="#4ee189" stroke-width="1.2"/>
<rect x="1519.93" y="722.40" width="7.7" height="0.70" fill="#4ee189" fill-opacity="0.9" stroke="#4ee189" stroke-width="0.8"/>
<path d="M1539.49 711.5V722.3M1539.49 728.1V731.3" stroke="#fd7880" stroke-width="1.2"/>
<rect x="1535.64" y="722.40" width="7.7" height="5.60" fill="#fd7880" fill-opacity="0.9" stroke="#fd7880" stroke-width="0.8"/>
<path d="M1555.20 704.0V706.5M1555.20 728.1V732.2" stroke="#4ee189" stroke-width="1.2"/>
<rect x="1551.35" y="706.60" width="7.7" height="21.40" fill="#4ee189" fill-opacity="0.9" stroke="#4ee189" stroke-width="0.8"/>
<path d="M1570.92 685.5V705.6M1570.92 709.3V709.6" stroke="#fd7880" stroke-width="1.2"/>
<rect x="1567.07" y="705.70" width="7.7" height="3.50" fill="#fd7880" fill-opacity="0.9" stroke="#fd7880" stroke-width="0.8"/>
<path d="M1586.63 707.4V709.4M1586.63 731.3V740.1" stroke="#fd7880" stroke-width="1.2"/>
<rect x="1582.78" y="709.50" width="7.7" height="21.70" fill="#fd7880" fill-opacity="0.9" stroke="#fd7880" stroke-width="0.8"/>
<path d="M1602.34 726.2V728.4M1602.34 731.3V741.2" stroke="#4ee189" stroke-width="1.2"/>
<rect x="1598.49" y="728.50" width="7.7" height="2.70" fill="#4ee189" fill-opacity="0.9" stroke="#4ee189" stroke-width="0.8"/>
<path d="M1618.05 728.0V728.4M1618.05 735.3V736.3" stroke="#fd7880" stroke-width="1.2"/>
<rect x="1614.20" y="728.50" width="7.7" height="6.70" fill="#fd7880" fill-opacity="0.9" stroke="#fd7880" stroke-width="0.8"/>
<path d="M1633.76 731.3V736.3M1633.76 744.1V745.0" stroke="#fd7880" stroke-width="1.2"/>
<rect x="1629.91" y="736.40" width="7.7" height="7.60" fill="#fd7880" fill-opacity="0.9" stroke="#fd7880" stroke-width="0.8"/>
<path d="M1649.48 744.0V744.4M1649.48 751.3V782.1" stroke="#fd7880" stroke-width="1.2"/>
<rect x="1645.63" y="744.50" width="7.7" height="6.70" fill="#fd7880" fill-opacity="0.9" stroke="#fd7880" stroke-width="0.8"/>
<path d="M171.8 466.2 L188.3 488.6 L204.0 497.3 L219.7 500.7 L235.4 494.0 L251.1 498.1 L266.8 488.8 L282.5 464.1 L298.2 457.1 L314.0 448.9 L329.7 438.9 L345.4 444.9 L361.1 470.1 L376.8 487.4 L392.5 504.8 L408.2 511.9 L423.9 516.8 L439.7 537.2 L455.4 555.4 L471.1 567.6 L486.8 587.3 L502.5 584.0 L518.2 541.5 L533.9 504.5 L549.6 468.1 L565.3 444.3 L581.1 442.0 L596.8 470.9 L612.5 491.9 L628.2 520.0 L643.9 536.2 L659.6 554.6 L675.3 560.0 L691.0 568.2 L706.8 578.9 L722.5 587.7 L738.2 597.1 L753.9 611.2 L769.6 612.9 L785.3 611.2 L801.0 606.0 L816.7 599.0 L832.5 593.6 L848.2 600.1 L863.9 608.6 L879.6 625.1 L895.3 634.9 L911.0 642.9 L926.7 651.5 L942.4 661.3 L958.1 667.7 L973.9 684.6 L989.6 698.7 L1005.3 706.3 L1021.0 713.3 L1036.7 718.1 L1052.4 721.5 L1068.1 727.7 L1083.8 740.7 L1099.6 753.7 L1115.3 763.0 L1131.0 771.7 L1146.7 781.7 L1162.4 783.0 L1178.1 782.1 L1193.8 784.9 L1209.5 781.8 L1225.3 778.3 L1241.0 781.0 L1256.7 780.6 L1272.4 777.3 L1288.1 771.1 L1303.8 759.6 L1319.5 751.4 L1335.2 746.3 L1350.9 746.8 L1366.7 749.6 L1382.4 755.2 L1398.1 752.9 L1413.8 750.8 L1429.5 742.3 L1445.2 727.0 L1460.9 717.9 L1476.6 714.2 L1492.4 708.7 L1508.1 707.4 L1523.8 715.8 L1539.5 720.6 L1555.2 718.1 L1570.9 717.8 L1586.6 719.6 L1602.3 720.8 L1618.1 722.2 L1633.8 729.9 L1649.7 738.4" fill="none" stroke="#1f77b4" stroke-width="2.8" stroke-linejoin="round" stroke-linecap="butt"/>
<path d="M249.9 482.2 L266.8 488.7 L282.5 480.7 L298.2 478.9 L314.0 471.4 L329.7 468.5 L345.4 466.9 L361.1 467.1 L376.8 472.3 L392.5 476.9 L408.2 475.4 L423.9 480.9 L439.7 503.7 L455.4 521.4 L471.1 536.2 L486.8 549.6 L502.5 550.4 L518.2 539.4 L533.9 530.0 L549.6 517.9 L565.3 515.8 L581.1 513.0 L596.8 506.2 L612.5 498.2 L628.2 494.0 L643.9 490.2 L659.6 498.3 L675.3 515.4 L691.0 530.0 L706.8 549.5 L722.5 562.0 L738.2 575.9 L753.9 585.6 L769.6 590.5 L785.3 595.1 L801.0 596.9 L816.7 598.1 L832.5 602.4 L848.2 606.5 L863.9 609.9 L879.6 615.5 L895.3 617.0 L911.0 618.3 L926.7 625.8 L942.4 634.9 L958.1 646.4 L973.9 659.7 L989.6 670.8 L1005.3 678.9 L1021.0 687.3 L1036.7 692.9 L1052.4 703.0 L1068.1 713.2 L1083.8 723.5 L1099.6 733.5 L1115.3 740.5 L1131.0 746.6 L1146.7 754.7 L1162.4 761.8 L1178.1 767.9 L1193.8 773.9 L1209.5 776.7 L1225.3 780.0 L1241.0 782.0 L1256.7 781.4 L1272.4 781.1 L1288.1 776.4 L1303.8 769.0 L1319.5 766.2 L1335.2 763.5 L1350.9 762.0 L1366.7 760.3 L1382.4 757.4 L1398.1 752.2 L1413.8 748.5 L1429.5 744.5 L1445.2 738.3 L1460.9 736.6 L1476.6 733.6 L1492.4 729.7 L1508.1 724.9 L1523.8 721.4 L1539.5 719.3 L1555.2 716.2 L1570.9 713.3 L1586.6 713.5 L1602.3 718.3 L1618.1 721.4 L1633.8 724.0 L1649.8 728.1" fill="none" stroke="#ff7f0e" stroke-width="2.8" stroke-linejoin="round" stroke-linecap="butt"/>
<path d="M564.1 491.1 L581.1 494.2 L596.8 496.8 L612.5 499.5 L628.2 500.6 L643.9 502.8 L659.6 505.2 L675.3 507.3 L691.0 510.7 L706.8 514.7 L722.5 517.7 L738.2 523.2 L753.9 531.8 L769.6 536.7 L785.3 541.8 L801.0 545.6 L816.7 548.9 L832.5 552.4 L848.2 555.5 L863.9 559.1 L879.6 564.4 L895.3 568.6 L911.0 570.0 L926.7 571.5 L942.4 574.7 L958.1 577.8 L973.9 585.4 L989.6 596.2 L1005.3 605.1 L1021.0 615.5 L1036.7 623.5 L1052.4 632.0 L1068.1 639.0 L1083.8 646.6 L1099.6 654.5 L1115.3 661.3 L1131.0 668.1 L1146.7 676.0 L1162.4 682.4 L1178.1 688.4 L1193.8 694.1 L1209.5 698.9 L1225.3 703.8 L1241.0 710.4 L1256.7 716.6 L1272.4 722.7 L1288.1 727.6 L1303.8 731.5 L1319.5 735.7 L1335.2 739.5 L1350.9 743.0 L1366.7 746.7 L1382.4 750.2 L1398.1 752.6 L1413.8 754.5 L1429.5 755.4 L1445.2 753.8 L1460.9 753.4 L1476.6 753.9 L1492.4 753.7 L1508.1 753.6 L1523.8 752.8 L1539.5 752.2 L1555.2 750.1 L1570.9 747.7 L1586.6 746.4 L1602.3 744.3 L1618.1 742.3 L1633.8 741.3 L1649.8 740.4" fill="none" stroke="#2ca02c" stroke-width="2.8" stroke-linejoin="round" stroke-linecap="butt"/>
<path d="M1035.5 556.6 L1052.4 562.8 L1068.1 567.6 L1083.8 572.8 L1099.6 577.2 L1115.3 581.7 L1131.0 586.4 L1146.7 591.3 L1162.4 596.3 L1178.1 601.3 L1193.8 605.6 L1209.5 610.8 L1225.3 617.5 L1241.0 623.3 L1256.7 628.9 L1272.4 633.8 L1288.1 638.0 L1303.8 641.6 L1319.5 645.3 L1335.2 649.0 L1350.9 653.4 L1366.7 657.4 L1382.4 659.8 L1398.1 661.7 L1413.8 664.3 L1429.5 666.3 L1445.2 669.3 L1460.9 674.5 L1476.6 679.2 L1492.4 684.3 L1508.1 688.2 L1523.8 692.1 L1539.5 695.3 L1555.2 698.1 L1570.9 700.8 L1586.6 703.5 L1602.3 705.9 L1618.1 708.8 L1633.8 711.5 L1649.8 714.1" fill="none" stroke="#d62728" stroke-width="2.8" stroke-linejoin="round" stroke-linecap="butt"/>
<g stroke="#848484" stroke-width="1.8">
<path d="M1742.94 186h7"/>
<path d="M1742.94 272h7"/>
<path d="M1742.94 358h7"/>
<path d="M1742.94 444h7"/>
<path d="M1742.94 530h7"/>
<path d="M1742.94 616h7"/>
<path d="M1742.94 702h7"/>
<path d="M1742.94 788h7"/>
<path d="M1742.94 839.04h7"/>
<path d="M1742.94 893.05h7"/>
<path d="M1742.94 946.8h7"/>
<path d="M1742.94 1000.05h7"/>
<path d="M1742.94 1053.8h7"/>
<path d="M109 1106.7v7.1"/>
<path d="M423 1106.7v7.1"/>
<path d="M738 1106.7v7.1"/>
<path d="M1052 1106.7v7.1"/>
<path d="M1366 1106.7v7.1"/>
<path d="M1680 1106.7v7.1"/>
</g>
<text x="1758.5" y="193.85" font-size="22.0" fill="#808080" textLength="57.2" lengthAdjust="spacingAndGlyphs">0.055</text>
<text x="1758.5" y="279.85" font-size="22.0" fill="#808080" textLength="57.2" lengthAdjust="spacingAndGlyphs">0.050</text>
<text x="1758.5" y="365.85" font-size="22.0" fill="#808080" textLength="57.2" lengthAdjust="spacingAndGlyphs">0.045</text>
<text x="1758.5" y="451.85" font-size="22.0" fill="#808080" textLength="57.2" lengthAdjust="spacingAndGlyphs">0.040</text>
<text x="1758.5" y="537.85" font-size="22.0" fill="#808080" textLength="57.2" lengthAdjust="spacingAndGlyphs">0.035</text>
<text x="1758.5" y="623.85" font-size="22.0" fill="#808080" textLength="57.2" lengthAdjust="spacingAndGlyphs">0.030</text>
<text x="1758.5" y="709.85" font-size="22.0" fill="#808080" textLength="57.2" lengthAdjust="spacingAndGlyphs">0.025</text>
<text x="1758.5" y="795.85" font-size="22.0" fill="#808080" textLength="57.2" lengthAdjust="spacingAndGlyphs">0.020</text>
<text x="1757.5" y="846.89" font-size="22.0" fill="#808080" textLength="38.3" lengthAdjust="spacingAndGlyphs">100</text>
<text x="1758.0" y="900.90" font-size="22.0" fill="#808080" textLength="25.3" lengthAdjust="spacingAndGlyphs">80</text>
<text x="1758.0" y="954.65" font-size="22.0" fill="#808080" textLength="25.3" lengthAdjust="spacingAndGlyphs">60</text>
<text x="1758.0" y="1007.90" font-size="22.0" fill="#808080" textLength="25.3" lengthAdjust="spacingAndGlyphs">40</text>
<text x="1758.0" y="1061.65" font-size="22.0" fill="#808080" textLength="25.3" lengthAdjust="spacingAndGlyphs">20</text>
<text transform="translate(106.60,1175.90) rotate(-45)" x="-65.75" y="7.3" font-size="22.0" fill="#808080" textLength="131.50" lengthAdjust="spacingAndGlyphs">2025-Oct-13</text>
<text transform="translate(420.50,1176.20) rotate(-45)" x="-67.45" y="7.3" font-size="22.0" fill="#808080" textLength="134.90" lengthAdjust="spacingAndGlyphs">2025-Nov-02</text>
<text transform="translate(735.50,1176.20) rotate(-45)" x="-67.45" y="7.3" font-size="22.0" fill="#808080" textLength="134.90" lengthAdjust="spacingAndGlyphs">2025-Nov-22</text>
<text transform="translate(1050.20,1176.30) rotate(-45)" x="-67.35" y="7.3" font-size="22.0" fill="#808080" textLength="134.70" lengthAdjust="spacingAndGlyphs">2025-Dec-12</text>
<text transform="translate(1364.30,1174.30) rotate(-45)" x="-64.00" y="7.3" font-size="22.0" fill="#808080" textLength="128.00" lengthAdjust="spacingAndGlyphs">2026-Jan-01</text>
<text transform="translate(1843.0,527.6) rotate(-90)" x="0" y="0" font-size="22.0" fill="#000" textLength="50.2" lengthAdjust="spacingAndGlyphs">Price</text>
<text transform="translate(1824.8,1037.0) rotate(-90)" x="0" y="0" font-size="22.0" fill="#000" textLength="78.3" lengthAdjust="spacingAndGlyphs">Volume</text>
<text transform="translate(1824.8,943.9) rotate(-90)" x="0" y="0" font-size="22.0" fill="#000" textLength="24.6" lengthAdjust="spacingAndGlyphs">10</text>
<text transform="translate(1816.6,917.6) rotate(-90)" x="0" y="0" font-size="16.5" fill="#000" textLength="8.6" lengthAdjust="spacingAndGlyphs">6</text>
<text x="639.1" y="34.1" font-size="25.3" fill="#000" textLength="47.8" lengthAdjust="spacingAndGlyphs">SPK</text>
<text x="703.0" y="34.1" font-size="25.3" fill="#000" textLength="144.8" lengthAdjust="spacingAndGlyphs">2026-01-20</text>
<text x="864.1" y="34.1" font-size="25.3" fill="#000" textLength="62.5" lengthAdjust="spacingAndGlyphs">price</text>
</svg></body></html>
